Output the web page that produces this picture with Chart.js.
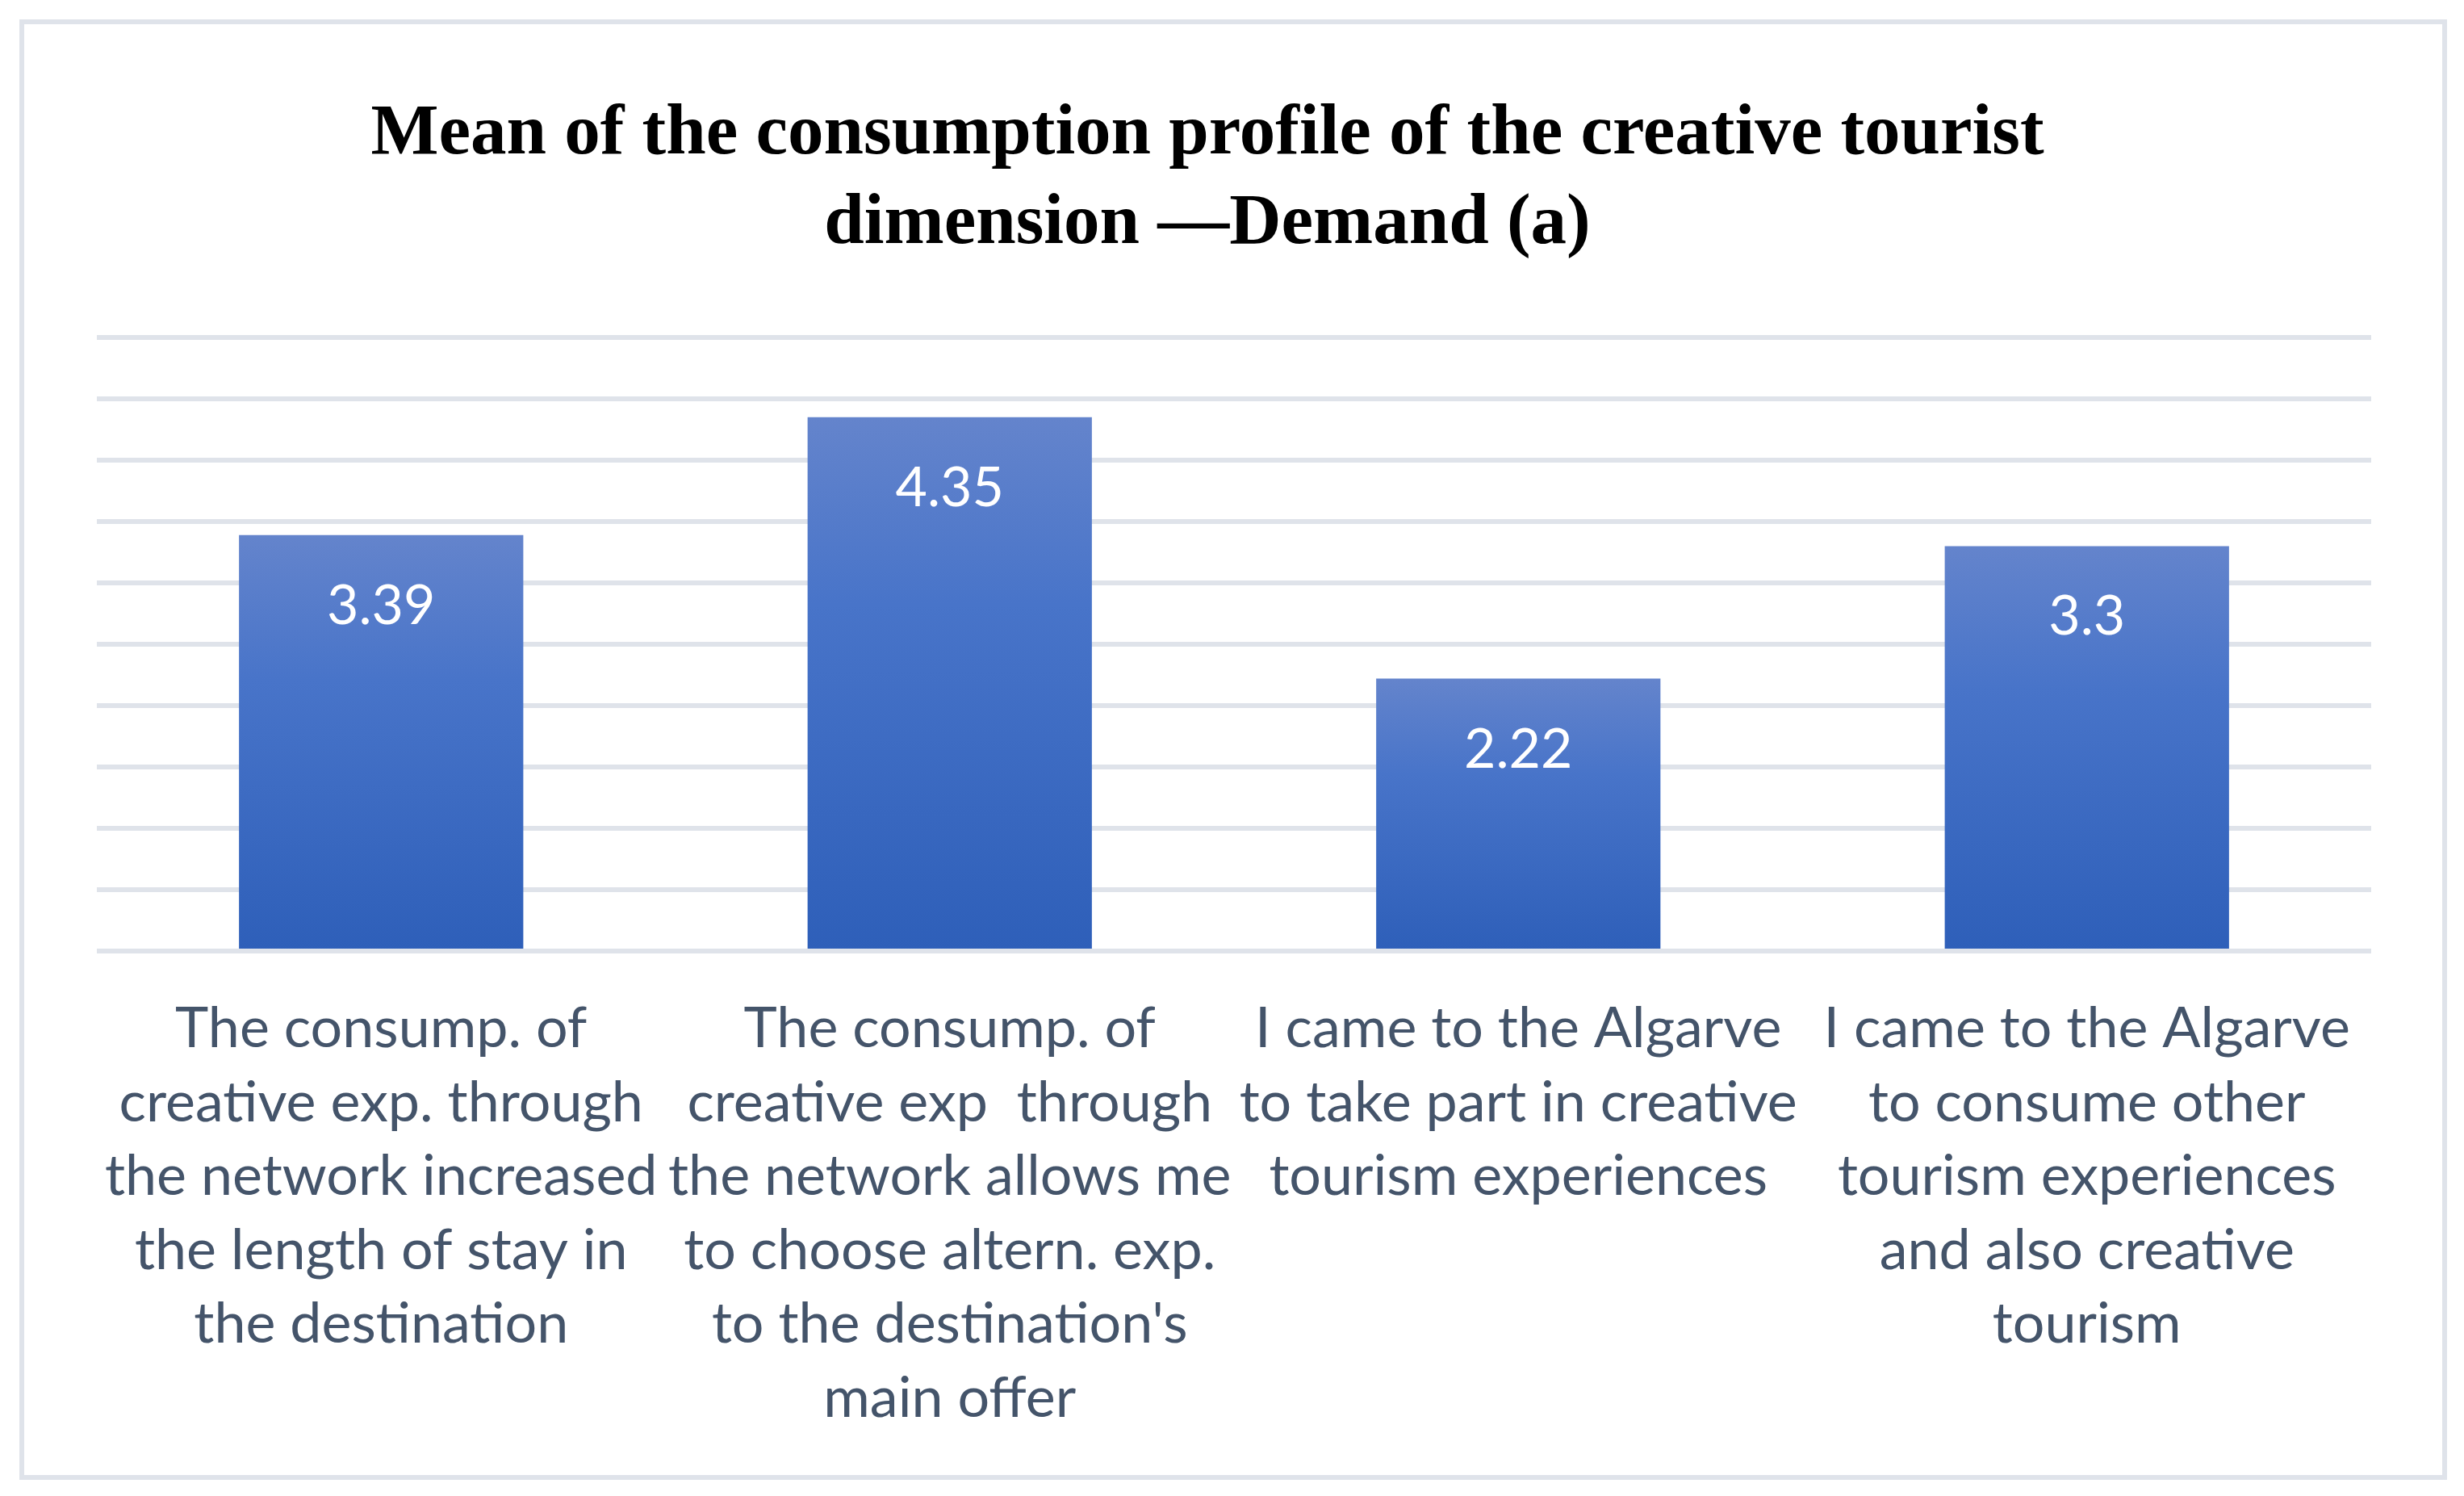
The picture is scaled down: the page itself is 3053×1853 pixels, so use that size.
<!DOCTYPE html>
<html>
<head>
<meta charset="utf-8">
<script src="https://cdn.jsdelivr.net/npm/chart.js@4.4.1/dist/chart.umd.min.js"></script>
<style>
  html, body { margin: 0; padding: 0; background: #fff; }
  #wrap { position: absolute; left: 0; top: 0; width: 3053px; height: 1853px; }
  #frame { position: absolute; left: 24px; top: 24px; width: 3008px; height: 1809px;
           box-sizing: border-box; border: 6px solid #dfe3ea; pointer-events: none; }
</style>
</head>
<body>
<div id="wrap">
  <canvas id="myChart" width="3053" height="1853"></canvas>
  <div id="frame"></div>
</div>
<script>
// chart data
const titleLines = ['Mean of the consumption profile of the creative tourist', 'dimension \u2014Demand (a)'];
const categories = [
  ['The consump. of', 'creative exp. through', 'the network increased', 'the length of stay in', 'the destination'],
  ['The consump. of', 'creative exp  through', 'the network allows me', 'to choose altern. exp.', "to the destination's", 'main offer'],
  ['I came to the Algarve', 'to take part in creative', 'tourism experiences'],
  ['I came to the Algarve', 'to consume other', 'tourism experiences', 'and also creative', 'tourism']
];
const means = [3.39, 4.35, 2.22, 3.3];
const yTicks = [0, 0.5, 1, 1.5, 2, 2.5, 3, 3.5, 4, 4.5, 5];

const labelFont = 'Lato';

// gradient per bar, lighter at the top
function barFill(context) {
  const chart = context.chart;
  const y = chart.scales.y;
  if (!chart.chartArea || !y) return '#4472c4';
  const top = y.getPixelForValue(context.raw);
  const bottom = y.getPixelForValue(0);
  const g = chart.ctx.createLinearGradient(0, top, 0, bottom);
  g.addColorStop(0, '#6484cc');
  g.addColorStop(0.35, '#4874c9');
  g.addColorStop(1, '#2e5fb9');
  return g;
}

// value labels inside the top of each bar
const valueLabels = {
  id: 'valueLabels',
  afterDatasetsDraw(chart) {
    const ctx = chart.ctx;
    const meta = chart.getDatasetMeta(0);
    ctx.save();
    ctx.fillStyle = '#ffffff';
    ctx.font = '68px ' + labelFont;
    ctx.textAlign = 'center';
    ctx.textBaseline = 'middle';
    meta.data.forEach((bar, i) => {
      ctx.fillText(String(means[i]), bar.x, bar.y + 88);
    });
    ctx.restore();
  }
};

const ctx = document.getElementById('myChart').getContext('2d');
const chart = new Chart(ctx, {
  type: 'bar',
  data: {
    labels: categories,
    datasets: [{
      label: 'Mean',
      data: means,
      backgroundColor: barFill,
      borderWidth: 0,
      barPercentage: 0.5,
      categoryPercentage: 1.0
    }]
  },
  options: {
    responsive: false,
    animation: false,
    layout: { padding: { left: 54, right: 115, top: 112, bottom: 24 } },
    plugins: {
      legend: { display: false },
      tooltip: { enabled: false },
      title: {
        display: true,
        text: titleLines,
        color: '#000000',
        font: { family: 'Liberation Serif', size: 89, weight: 'bold', lineHeight: 1.247 },
        padding: { top: 0, bottom: 84 }
      }
    },
    scales: {
      x: {
        grid: { display: false, drawTicks: false },
        border: { display: false },
        ticks: {
          color: '#44546a',
          font: { family: labelFont, size: 70, lineHeight: 1.307 },
          padding: 51,
          maxRotation: 0,
          minRotation: 0,
          autoSkip: false
        }
      },
      y: {
        min: 0,
        max: 5,
        afterBuildTicks(scale) { scale.ticks = yTicks.map(v => ({ value: v })); },
        afterFit(scale) { scale.width = 66; },
        grid: { color: '#dfe3ea', lineWidth: 6, drawTicks: false },
        border: { display: false },
        ticks: { display: false }
      }
    }
  },
  plugins: [valueLabels]
});
</script>
</body>
</html>
